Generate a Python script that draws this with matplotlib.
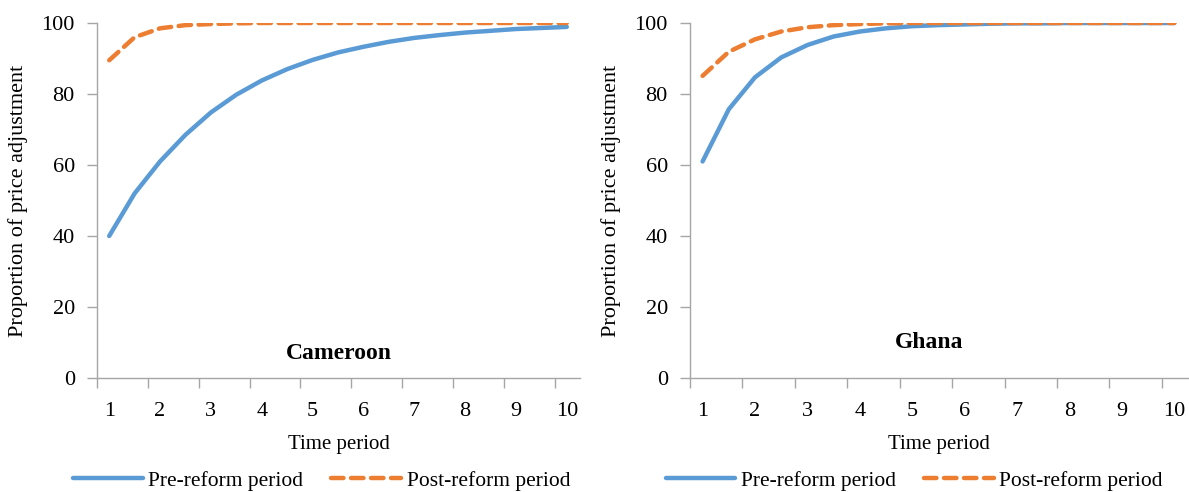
import numpy as np
import matplotlib
matplotlib.use("Agg")
import matplotlib.pyplot as plt
from matplotlib.ticker import FixedLocator

plt.rcParams['font.family'] = ['Liberation Serif', 'DejaVu Serif']

# time axis: half-period steps from 1 to 10
periods = [1, 1.5, 2, 2.5, 3, 3.5, 4, 4.5, 5, 5.5, 6, 6.5, 7, 7.5, 8, 8.5, 9, 9.5, 10]
tick_labels = ['1', '2', '3', '4', '5', '6', '7', '8', '9', '10']

cameroon_pre = [40, 52, 61, 68.5, 74.8, 79.8, 83.8, 87.0, 89.6, 91.7, 93.3,
                94.7, 95.8, 96.6, 97.3, 97.8, 98.3, 98.6, 98.9]
cameroon_post = [89.5, 96.0, 98.5, 99.4, 99.7, 99.9, 100, 100, 100, 100, 100,
                 100, 100, 100, 100, 100, 100, 100, 100]

ghana_pre = [61, 75.7, 84.7, 90.3, 93.8, 96.2, 97.6, 98.5, 99.1, 99.4, 99.6,
             99.8, 99.9, 99.9, 100, 100, 100, 100, 100]
ghana_post = [85.1, 91.9, 95.4, 97.6, 98.8, 99.4, 99.7, 99.9, 100, 100, 100,
              100, 100, 100, 100, 100, 100, 100, 100]

blue = '#5B9BD5'
orange = '#ED7D31'
axis_col = '#A6A6A6'

fig = plt.figure(figsize=(11.89, 4.92), dpi=100)
ax1 = fig.add_axes([97 / 1189, 1 - 378 / 492, 483 / 1189, 355 / 492])
ax2 = fig.add_axes([690 / 1189, 1 - 378 / 492, 498 / 1189, 355 / 492])

panels = [(ax1, cameroon_pre, cameroon_post, 'Cameroon', 0.5, 0.07, 0.465),
          (ax2, ghana_pre, ghana_post, 'Ghana', 0.48, 0.10, 0.45)]

for ax, pre, post, name, tx, ty, lx in panels:
    ax.plot(periods, pre, color=blue, lw=3.2, solid_capstyle='round',
            label='Pre-reform period')
    ax.plot(periods, post, color=orange, lw=3.2, ls=(0, (2.8, 1.7)),
            dash_capstyle='round', label='Post-reform period')
    ax.set_xlim(0.76, 10.26)
    ax.set_ylim(0, 100)
    ax.set_yticks([0, 20, 40, 60, 80, 100])
    ax.tick_params(axis='y', labelsize=16, length=7, width=1, color=axis_col, pad=9)
    # tick marks sit a bit left of each category label
    ax.xaxis.set_major_locator(FixedLocator([i - 0.24 for i in range(1, 11)]))
    ax.set_xticklabels([])
    ax.xaxis.set_minor_locator(FixedLocator(list(range(1, 11))))
    ax.set_xticks(list(range(1, 11)), tick_labels, minor=True)
    ax.tick_params(axis='x', which='major', length=7, width=1, color=axis_col)
    ax.tick_params(axis='x', which='minor', length=0, labelsize=16, pad=17)
    for s in ['top', 'right']:
        ax.spines[s].set_visible(False)
    for s in ['left', 'bottom']:
        ax.spines[s].set_color(axis_col)
        ax.spines[s].set_linewidth(1)
    ax.set_xlabel('Time period', fontsize=15, labelpad=10)
    ax.set_ylabel('Proportion of price adjustment', fontsize=16, labelpad=10)
    ax.text(tx, ty, name, transform=ax.transAxes, ha='center', va='center',
            fontsize=17, fontweight='bold')
    ax.legend(loc='center', bbox_to_anchor=(lx, -0.29), ncol=2,
              frameon=False, fontsize=15.5, handlelength=3.25, columnspacing=1.3,
              handletextpad=0.25)

fig.savefig('out.png', dpi=100)
